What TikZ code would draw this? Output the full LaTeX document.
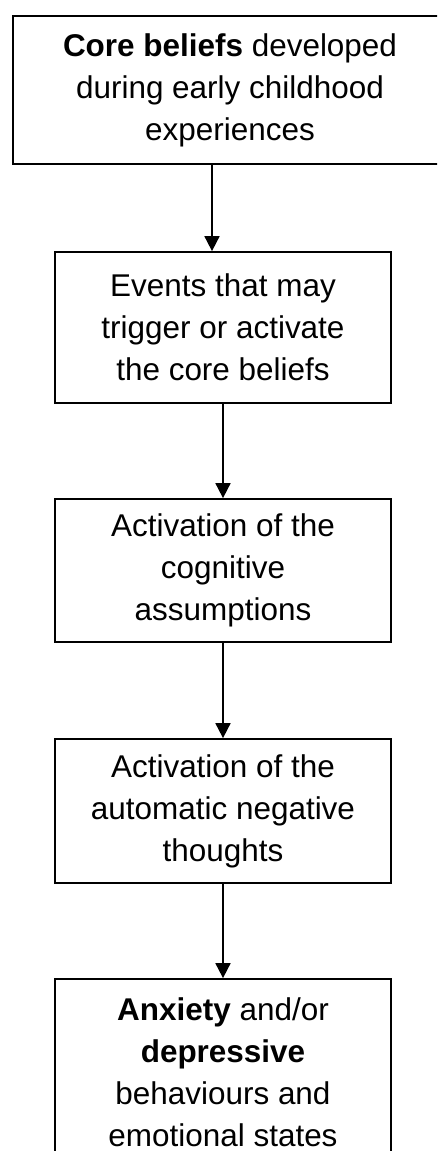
\documentclass[tikz,border=0pt]{standalone}
\usepackage{fontspec}
\setmainfont{Liberation Sans}
\usetikzlibrary{arrows.meta}

\begin{document}
\begin{tikzpicture}[
	stage/.style={draw, line width=1pt, align=center, inner sep=0pt, font=\fontsize{17.9}{23.9}\selectfont},
	flow/.style={-{Triangle[length=0.3cm,width=0.3cm]}, line width=1pt}]
		\clip (0,0) rectangle (8.74,-23.02);
		\node[stage, minimum width=8.68cm, minimum height=2.96cm] (core) at (4.6,-1.8) {\textbf{Core beliefs} developed\\during early childhood\\experiences};
		\node[stage, minimum width=6.72cm, minimum height=3.02cm] (events) at (4.46,-6.55) {Events that may\\trigger or activate\\the core beliefs};
		\node[stage, minimum width=6.72cm, minimum height=2.86cm] (assume) at (4.46,-11.41) {Activation of the\\cognitive\\assumptions};
		\node[stage, minimum width=6.72cm, minimum height=2.88cm] (auto) at (4.46,-16.22) {Activation of the\\automatic negative\\thoughts};
		\node[stage, minimum width=6.72cm, minimum height=3.72cm] (mood) at (4.46,-21.44) {\textbf{Anxiety} and/or\\\textbf{depressive}\\behaviours and\\emotional states};
		
		\draw[flow] ([xshift=-0.36cm]core.south) -- ([xshift=-0.22cm]events.north);
		\draw[flow] (events.south) -- (assume.north);
		\draw[flow] (assume.south) -- (auto.north);
		\draw[flow] (auto.south) -- (mood.north);
	\end{tikzpicture}
\end{document}
